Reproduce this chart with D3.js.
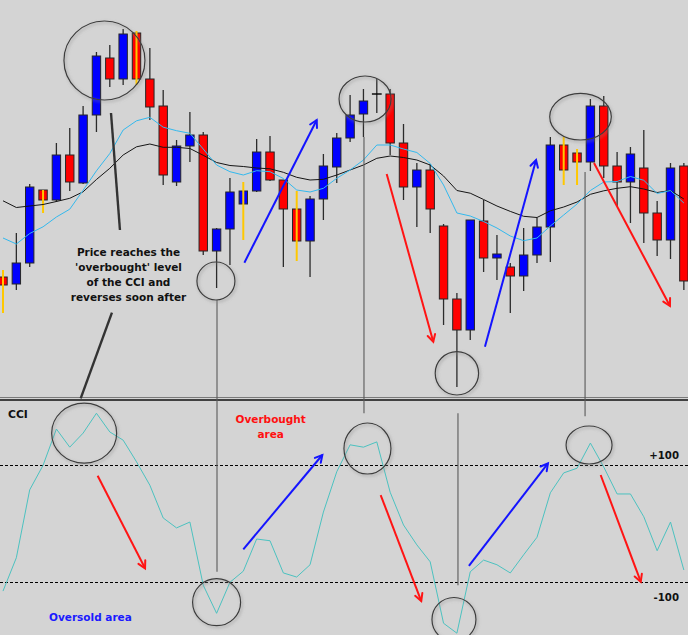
<!DOCTYPE html>
<html>
<head>
<meta charset="utf-8">
<script src="https://cdn.jsdelivr.net/npm/d3@7/dist/d3.min.js"></script>
<style>
  html, body { margin: 0; padding: 0; background: #d4d4d4; }
  svg { display: block; }
  text { font-family: "DejaVu Sans", Verdana, sans-serif; font-weight: bold; }
</style>
</head>
<body>
<svg id="chart" width="688" height="635"></svg>
<script>
// ---- Price bars (one entry per bar, oldest first) ----
const opens  = [1.3123,1.3116,1.3137,1.3210,1.3200,1.3245,1.3217,1.3285,1.3342,1.3321,1.3367,1.3321,1.3294,1.3218,1.3254,1.3265,1.3149,1.3171,1.3196,1.3209,1.3248,1.3220,1.3191,1.3159,1.3201,1.3233,1.3262,1.3286,1.3306,1.3306,1.3257,1.3213,1.3230,1.3174,1.3101,1.3070,1.3179,1.3142,1.3133,1.3124,1.3145,1.3173,1.3255,1.3247,1.3238,1.3294,1.3234,1.3218,1.3232,1.3187,1.3160,1.3234];
const highs  = [1.3130,1.3167,1.3216,1.3210,1.3257,1.3272,1.3294,1.3348,1.3355,1.3371,1.3369,1.3352,1.3310,1.3260,1.3288,1.3268,1.3172,1.3222,1.3218,1.3261,1.3264,1.3220,1.3209,1.3204,1.3246,1.3267,1.3305,1.3311,1.3321,1.3311,1.3276,1.3237,1.3236,1.3176,1.3107,1.3180,1.3200,1.3165,1.3137,1.3172,1.3182,1.3263,1.3263,1.3251,1.3301,1.3304,1.3248,1.3253,1.3270,1.3199,1.3237,1.3237];
const lows   = [1.3087,1.3110,1.3133,1.3187,1.3198,1.3209,1.3216,1.3268,1.3313,1.3315,1.3315,1.3280,1.3215,1.3214,1.3238,1.3145,1.3112,1.3135,1.3160,1.3208,1.3219,1.3133,1.3139,1.3123,1.3180,1.3217,1.3258,1.3263,1.3287,1.3245,1.3200,1.3173,1.3167,1.3075,1.3013,1.3060,1.3128,1.3120,1.3087,1.3109,1.3137,1.3138,1.3215,1.3215,1.3229,1.3222,1.3194,1.3177,1.3157,1.3144,1.3141,1.3110];
const closes = [1.3115,1.3137,1.3213,1.3200,1.3245,1.3218,1.3285,1.3344,1.3321,1.3366,1.3321,1.3293,1.3225,1.3254,1.3265,1.3149,1.3171,1.3208,1.3209,1.3248,1.3220,1.3191,1.3159,1.3201,1.3234,1.3262,1.3285,1.3299,1.3306,1.3257,1.3213,1.3230,1.3191,1.3101,1.3070,1.3180,1.3142,1.3146,1.3124,1.3145,1.3173,1.3255,1.3230,1.3238,1.3294,1.3234,1.3218,1.3246,1.3187,1.3160,1.3232,1.3119];
// bars whose wick is highlighted in yellow
const yellowWickBars = [0, 3, 10, 18, 22, 42, 43];

// ---- Moving averages ----
const slowMA = [1.31992,1.31925,1.3194,1.31955,1.31985,1.32017,1.32082,1.32205,1.32317,1.3245,1.32532,1.3256,1.32527,1.32527,1.32515,1.32447,1.32375,1.32345,1.32335,1.3232,1.32312,1.32277,1.32227,1.322,1.32207,1.3225,1.323,1.3235,1.32417,1.3244,1.32425,1.324,1.3235,1.3224,1.32095,1.32068,1.32005,1.3194,1.31886,1.31837,1.31825,1.31892,1.3193,1.3198,1.32057,1.32092,1.32117,1.32133,1.3211,1.32075,1.32095,1.3201];
const fastMA = [1.3162,1.3156,1.31665,1.31732,1.3183,1.31908,1.32097,1.32292,1.32465,1.327,1.32792,1.32827,1.32728,1.32693,1.32667,1.3251,1.3235,1.32283,1.3225,1.32293,1.32283,1.32215,1.321,1.3208,1.32117,1.32217,1.323,1.324,1.3255,1.3255,1.3251,1.32475,1.32365,1.3215,1.3187,1.3184,1.31785,1.3172,1.3164,1.31593,1.3162,1.3174,1.3185,1.3196,1.32095,1.3218,1.32185,1.32235,1.32197,1.32065,1.32095,1.3197];

// ---- Commodity Channel Index ----
const cci = [-115,-58,58,100,162,131,155,189,157,143,106,66,10,-7,3,-105,-153,-100,-81,-26,-29,-84,-91,-70,20,89,135,131,140,54,-2,-36,-65,-170,-187,-82,-62,-70,-84,-53,-23,53,87,95,138,97,51,51,12,-46,3,-79];
const cciLevels = [100, -100];
const cciLevelLabels = ["+100", "-100"];

// ---- Annotations (anchored to bar index and value) ----
const priceRings = [
  { bar: 7.6,   price: 1.33395, rx: 40.5, ry: 39.5 },
  { bar: 15.95, price: 1.3119,  rx: 19,   ry: 19 },
  { bar: 27.12, price: 1.3301,  rx: 26,   ry: 23 },
  { bar: 34.0,  price: 1.30267, rx: 21.7, ry: 21.7 },
  { bar: 43.26, price: 1.32833, rx: 30.8, ry: 23.3 }
];
const cciRings = [
  { bar: 6.08,  value: 155,    rx: 32.5, ry: 30 },
  { bar: 16.0,  value: -134,   rx: 24,   ry: 23.5 },
  { bar: 27.3,  value: 128.7,  rx: 23.5, ry: 25.5 },
  { bar: 33.78, value: -163.6, rx: 22,   ry: 22 },
  { bar: 43.9,  value: 134.7,  rx: 23,   ry: 19 }
];
const priceArrows = [
  { color: "#1414ff", from: [18.08, 1.31373], to: [23.5, 1.3280] },
  { color: "#ff1414", from: [28.74, 1.3226],  to: [32.23, 1.30583] },
  { color: "#1414ff", from: [36.1, 1.30533],  to: [39.93, 1.3240] },
  { color: "#ff1414", from: [44.27, 1.3237],  to: [49.96, 1.3094] }
];
const cciArrows = [
  { color: "#ff1414", from: [7.09, 82.2],   to: [10.64, -76.1] },
  { color: "#1414ff", from: [18.0, -43.6],  to: [23.92, 117.6] },
  { color: "#ff1414", from: [28.29, 49.2],  to: [31.33, -132] },
  { color: "#1414ff", from: [34.9, -72.1],  to: [40.82, 103.4] },
  { color: "#ff1414", from: [44.77, 83.4],  to: [47.77, -99] }
];

const W = 688, H = 635;
const svg = d3.select("#chart");

const x = d3.scaleLinear().domain([0, 51]).range([3, 683.85]);
const yPrice = d3.scaleLinear().domain([1.3000, 1.3400]).range([400, 0]);
const yCci = d3.scaleLinear().domain([-100, 100]).range([582.3, 465.3]);
const bodyW = 8.4;

const defs = svg.append("defs");
const shadow = defs.append("filter").attr("id", "ringShadow")
  .attr("x", "-20%").attr("y", "-20%").attr("width", "140%").attr("height", "140%");
shadow.append("feDropShadow").attr("dx", 1.2).attr("dy", 1.5).attr("stdDeviation", 1.4)
  .attr("flood-color", "#8a8a8a").attr("flood-opacity", 0.8);
defs.append("clipPath").attr("id", "pricePanel").append("rect")
  .attr("x", 0).attr("y", 0).attr("width", W).attr("height", 397);
defs.append("clipPath").attr("id", "cciPanel").append("rect")
  .attr("x", 0).attr("y", 401).attr("width", W).attr("height", H - 401);

svg.append("rect").attr("width", W).attr("height", H).attr("fill", "#d4d4d4");

// ---- Price panel ----
const pricePanel = svg.append("g").attr("clip-path", "url(#pricePanel)");
const bars = d3.range(opens.length).map(i => ({
  i, o: opens[i], h: highs[i], l: lows[i], c: closes[i], yellow: yellowWickBars.includes(i)
}));

pricePanel.append("g").selectAll("line").data(bars.filter(d => !d.yellow)).join("line")
  .attr("x1", d => x(d.i)).attr("x2", d => x(d.i))
  .attr("y1", d => yPrice(d.h)).attr("y2", d => yPrice(d.l))
  .attr("stroke", "#2b2b2b").attr("stroke-width", 1.3);

pricePanel.append("g").selectAll("rect").data(bars).join("rect")
  .attr("x", d => x(d.i) - bodyW / 2)
  .attr("y", d => yPrice(Math.max(d.o, d.c)))
  .attr("width", bodyW)
  .attr("height", d => Math.max(0.01, Math.abs(yPrice(d.o) - yPrice(d.c))))
  .attr("fill", d => d.c > d.o ? "#0000ff" : d.c < d.o ? "#ff0000" : "none")
  .attr("stroke", d => d.c === d.o ? "#000" : "#262626")
  .attr("stroke-width", d => d.c === d.o ? 1.4 : 1);

pricePanel.append("g").selectAll("line").data(bars.filter(d => d.yellow)).join("line")
  .attr("x1", d => x(d.i)).attr("x2", d => x(d.i))
  .attr("y1", d => yPrice(d.h)).attr("y2", d => yPrice(d.l))
  .attr("stroke", "#ffc800").attr("stroke-width", 2);

const maLine = d3.line().x((d, i) => x(i)).y(d => yPrice(d));
pricePanel.append("path").datum(slowMA).attr("d", maLine)
  .attr("fill", "none").attr("stroke", "#151515").attr("stroke-width", 1);
pricePanel.append("path").datum(fastMA).attr("d", maLine)
  .attr("fill", "none").attr("stroke", "#33b9ee").attr("stroke-width", 1);

// ---- Panel separator ----
svg.append("line").attr("x1", 0).attr("x2", W).attr("y1", 397.5).attr("y2", 397.5)
  .attr("stroke", "#7a7a7a").attr("stroke-width", 1);
svg.append("line").attr("x1", 0).attr("x2", W).attr("y1", 400).attr("y2", 400)
  .attr("stroke", "#111").attr("stroke-width", 1.5);

// ---- CCI panel ----
const cciPanel = svg.append("g").attr("clip-path", "url(#cciPanel)");
cciPanel.selectAll("line.level").data(cciLevels).join("line").attr("class", "level")
  .attr("x1", 0).attr("x2", W)
  .attr("y1", d => Math.round(yCci(d)) + 0.5).attr("y2", d => Math.round(yCci(d)) + 0.5)
  .attr("stroke", "#000").attr("stroke-width", 1).attr("stroke-dasharray", "3,2");

const cciLine = d3.line().x((d, i) => x(i)).y(d => yCci(d));
cciPanel.append("path").datum(cci).attr("d", cciLine)
  .attr("fill", "none").attr("stroke", "#4cc2c0").attr("stroke-width", 1);

// ---- Guide lines between panels ----
const guides = [
  { bar: 16.03, top: yPrice(1.3100), bottom: yCci(-82) },
  { bar: 27.04, top: yPrice(1.3263), bottom: yCci(189) },
  { bar: 34.08, top: yCci(189),      bottom: yCci(-105) },
  { bar: 43.6,  top: yPrice(1.3228), bottom: yCci(184) }
];
svg.append("g").selectAll("line").data(guides).join("line")
  .attr("x1", d => x(d.bar)).attr("x2", d => x(d.bar))
  .attr("y1", d => d.top).attr("y2", d => d.bottom)
  .attr("stroke", "#5a5a5a").attr("stroke-width", 1.1);

// pointer from the note to the price top and to the CCI top
const pointers = [
  [[8.09, 1.3287], [8.76, 1.3170]],
  [[8.16, 1.30873], [5.82, 1.30017]]
];
svg.append("g").selectAll("line").data(pointers).join("line")
  .attr("x1", d => x(d[0][0])).attr("y1", d => yPrice(d[0][1]))
  .attr("x2", d => x(d[1][0])).attr("y2", d => yPrice(d[1][1]))
  .attr("stroke", "#333").attr("stroke-width", 2.4);

// ---- Rings ----
const rings = priceRings.map(r => ({ cx: x(r.bar), cy: yPrice(r.price), rx: r.rx, ry: r.ry }))
  .concat(cciRings.map(r => ({ cx: x(r.bar), cy: yCci(r.value), rx: r.rx, ry: r.ry })));
svg.append("g").attr("filter", "url(#ringShadow)").selectAll("ellipse").data(rings).join("ellipse")
  .attr("cx", d => d.cx).attr("cy", d => d.cy).attr("rx", d => d.rx).attr("ry", d => d.ry)
  .attr("fill", "none").attr("stroke", "#3c3c3c").attr("stroke-width", 1.2);

// ---- Arrows ----
function drawArrow(g, x1, y1, x2, y2, color) {
  const a = Math.atan2(y2 - y1, x2 - x1), len = 8, spread = 0.5;
  g.append("line").attr("x1", x1).attr("y1", y1).attr("x2", x2).attr("y2", y2)
    .attr("stroke", color).attr("stroke-width", 2);
  g.append("path")
    .attr("d", `M${x2 - len * Math.cos(a - spread)},${y2 - len * Math.sin(a - spread)}L${x2},${y2}L${x2 - len * Math.cos(a + spread)},${y2 - len * Math.sin(a + spread)}`)
    .attr("fill", "none").attr("stroke", color).attr("stroke-width", 2)
    .attr("stroke-linejoin", "miter").attr("stroke-linecap", "round");
}
const arrowLayer = svg.append("g");
priceArrows.forEach(d => drawArrow(arrowLayer, x(d.from[0]), yPrice(d.from[1]), x(d.to[0]), yPrice(d.to[1]), d.color));
cciArrows.forEach(d => drawArrow(arrowLayer, x(d.from[0]), yCci(d.from[1]), x(d.to[0]), yCci(d.to[1]), d.color));

// ---- Labels ----
const note = ["Price reaches the", "'overbought' level", "of the CCI and", "reverses soon after"];
svg.append("g").selectAll("text").data(note).join("text")
  .attr("x", 128.5).attr("y", (d, i) => 255.5 + i * 15)
  .attr("text-anchor", "middle").attr("font-size", "10.5px").attr("fill", "#111")
  .text(d => d);

svg.append("text").attr("x", 8).attr("y", 418).attr("font-size", "10.8px").attr("fill", "#111").text("CCI");
svg.append("g").selectAll("text").data(["Overbought", "area"]).join("text")
  .attr("x", 270.7).attr("y", (d, i) => 423 + i * 15)
  .attr("text-anchor", "middle").attr("font-size", "10.5px").attr("fill", "#ff1010")
  .text(d => d);
svg.append("text").attr("x", 49).attr("y", 620.5).attr("font-size", "10.5px").attr("fill", "#1a1aff").text("Oversold area");

svg.append("g").selectAll("text").data(cciLevels).join("text")
  .attr("x", 679).attr("y", (d, i) => yCci(d) + (d > 0 ? -6.5 : 18.5))
  .attr("text-anchor", "end").attr("font-size", "10.2px").attr("fill", "#111")
  .text((d, i) => cciLevelLabels[i]);
</script>
</body>
</html>
